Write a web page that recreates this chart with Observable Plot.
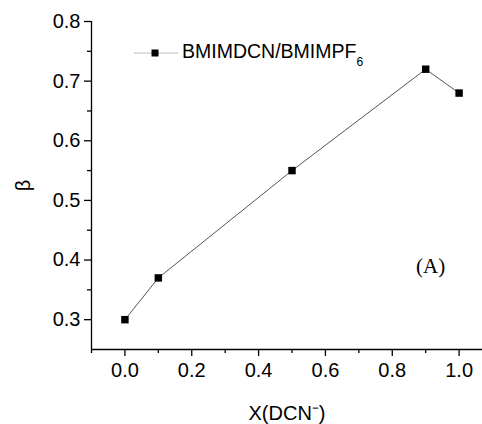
<!DOCTYPE html>
<html>
<head>
<meta charset="utf-8">
<script src="https://cdn.jsdelivr.net/npm/d3@7"></script>
<script src="https://cdn.jsdelivr.net/npm/@observablehq/plot@0.6"></script>
<style>
  html, body { margin: 0; padding: 0; background: #fff; }
  #wrap { position: relative; width: 482px; height: 424px; font-family: "Liberation Sans", Arial, sans-serif; }
  #legend { position: absolute; left: 134px; top: 40px; display: flex; align-items: center; font-size: 19.5px; color: #000; }
  #legend sub { font-size: 12px; position: relative; top: 3px; }
  #tag { position: absolute; left: 416px; top: 254px; font-family: "Liberation Serif", "Times New Roman", serif; font-size: 21px; color: #000; }
</style>
</head>
<body>
<div id="wrap"></div>
<script>
const xValues = [0.0, 0.1, 0.5, 0.9, 1.0];
const betaValues = [0.30, 0.37, 0.55, 0.72, 0.68];
const seriesName = "BMIMDCN/BMIMPF";
const seriesSub = "6";
const xMajorTicks = [0.0, 0.2, 0.4, 0.6, 0.8, 1.0];
const xMinorTicks = [-0.1, 0.1, 0.3, 0.5, 0.7, 0.9];
const yMajorTicks = [0.3, 0.4, 0.5, 0.6, 0.7, 0.8];
const yMinorTicks = [0.35, 0.45, 0.55, 0.65, 0.75];
const xDomain = [-0.1, 1.07];
const yDomain = [0.25, 0.8];

const data = xValues.map((x, i) => ({x, y: betaValues[i]}));

const chart = Plot.plot({
  width: 482,
  height: 424,
  marginLeft: 91,
  marginRight: 0,
  marginTop: 21,
  marginBottom: 75,
  style: {fontFamily: '"Liberation Sans", Arial, sans-serif', background: "#fff", color: "#000"},
  x: {domain: xDomain},
  y: {domain: yDomain},
  marks: [
    Plot.axisY(yMajorTicks, {anchor: "left", tickSize: 7, tickPadding: 4, fontSize: 20, tickFormat: d3.format(".1f"),
      label: "β", labelAnchor: "center", labelArrow: "none", labelOffset: 76, strokeWidth: 1.3}),
    Plot.axisY(yMinorTicks, {anchor: "left", tickSize: 4, tickFormat: () => "", label: null, strokeWidth: 1.3}),
    Plot.axisX(xMajorTicks, {anchor: "bottom", tickSize: 7, tickPadding: 6, fontSize: 20, tickFormat: d3.format(".1f"),
      label: "X(DCN\u207B)", labelAnchor: "center", labelArrow: "none", labelOffset: 70, strokeWidth: 1.3}),
    Plot.axisX(xMinorTicks, {anchor: "bottom", tickSize: 4, tickFormat: () => "", label: null, strokeWidth: 1.3}),
    Plot.ruleX([xDomain[0]], {stroke: "#000", strokeWidth: 1.3}),
    Plot.ruleY([yDomain[0]], {stroke: "#000", strokeWidth: 1.3}),
    Plot.line(data, {x: "x", y: "y", stroke: "#555", strokeWidth: 1}),
    Plot.dot(data, {x: "x", y: "y", symbol: "square", fill: "#000", stroke: "none", r: 4.2})
  ]
});

const wrap = document.getElementById("wrap");
wrap.appendChild(chart);

const legend = document.createElement("div");
legend.id = "legend";
legend.innerHTML = `<svg width="44" height="12" style="margin-right:4px"><line x1="0" x2="44" y1="6" y2="6" stroke="#bbb" stroke-width="1"/><rect x="17.5" y="2.5" width="7" height="7" fill="#000"/></svg><span>${seriesName}<sub>${seriesSub}</sub></span>`;
wrap.appendChild(legend);

const tag = document.createElement("div");
tag.id = "tag";
tag.textContent = "(A)";
wrap.appendChild(tag);
</script>
</body>
</html>
